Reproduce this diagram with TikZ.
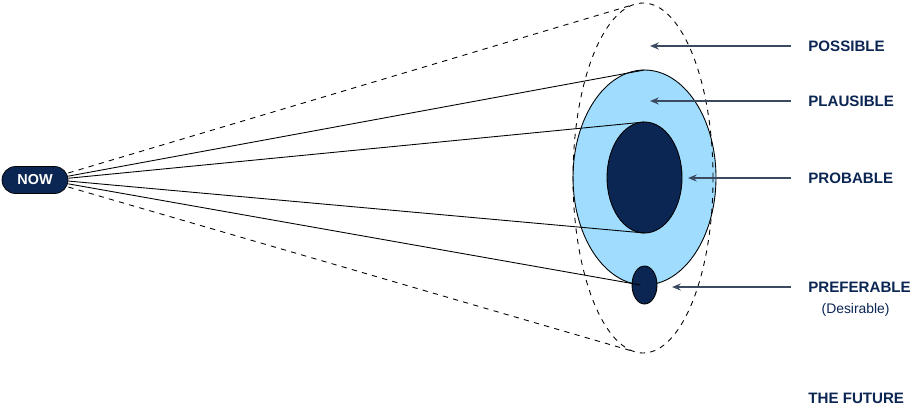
\documentclass[tikz,border=0pt]{standalone}
\usepackage{fontspec}
\setmainfont{Liberation Sans}
\usepackage{tikz}
\usetikzlibrary{positioning,arrows.meta,calc,shapes.geometric}
\definecolor{navy}{HTML}{0B2653}
\definecolor{skyblue}{HTML}{9FDCFD}
\definecolor{arrowgray}{HTML}{3B4A60}

\begin{document}
\begin{tikzpicture}[x=0.02cm,y=-0.02cm,
  blob/.style={ellipse,inner sep=0pt,outer sep=0pt,draw=black,line width=0.5pt},
  label/.style={anchor=west,inner sep=0pt,text=navy,font=\fontsize{8.6}{10}\selectfont\bfseries},
  pointer/.style={arrowgray,line width=0.9pt,-{Stealth[length=5pt,width=4pt]},shorten <=0.34cm},
  ray/.style={line width=0.5pt,black},
  every node/.style={font=\small}]
\useasboundingbox (0,0) rectangle (911,409);
% cone of futures
\node[blob,fill=skyblue,minimum width=143*0.02cm,minimum height=215*0.02cm] (plaus) at (644.5,177.5) {};
\node[blob,fill=navy,minimum width=75*0.02cm,minimum height=111*0.02cm] (prob) at (644.5,177.5) {};
\node[blob,dashed,minimum width=140*0.02cm,minimum height=350*0.02cm] (outer) at (643,178) {};
\node[draw=black,fill=navy,rounded corners=0.27cm,minimum width=66*0.02cm,minimum height=27*0.02cm,inner sep=0pt,
  text=white,font=\fontsize{8.2}{10}\selectfont\bfseries] (now) at (35,180) {NOW};
\draw[ray,dashed] ([yshift=4pt]now.east) -- (outer.93);
\draw[ray] ([yshift=2.2pt]now.east) -- (plaus.north);
\draw[ray] ([yshift=1pt]now.east) -- (prob.north);
\draw[ray] ([yshift=-0.6pt]now.east) -- (prob.south);
\draw[ray,dashed] ([yshift=-4pt]now.east) -- (outer.267);
\node[blob,fill=navy,minimum width=25*0.02cm,minimum height=38*0.02cm] (pref) at (644.5,285) {};
\draw[ray] ([yshift=-2.2pt]now.east) -- ([xshift=-4*0.02cm]pref.center);
% labels and pointers
\coordinate (tposs) at (650,46);
\coordinate (tplaus) at (650,101);
\coordinate (tprob) at (688,178);
\coordinate (tpref) at (672,287);
\node[label] (lposs) at (808,46) {POSSIBLE};
\node[label] (lplaus) at (808,101) {PLAUSIBLE};
\node[label] (lprob) at (808,178) {PROBABLE};
\node[label] (lpref) at (808,287) {PREFERABLE};
\node[anchor=north,inner sep=0pt,text=navy,font=\fontsize{7.9}{9}\selectfont] (desire) at ([xshift=-4*0.02cm,yshift=-6pt]lpref.south) {(Desirable)};
\node[label] (future) at (808,398) {THE FUTURE};
\draw[pointer] (lposs.west) -- (lposs.west -| tposs);
\draw[pointer] (lplaus.west) -- (lplaus.west -| tplaus);
\draw[pointer] (lprob.west) -- (lprob.west -| tprob);
\draw[pointer] (lpref.west) -- (lpref.west -| tpref);
\end{tikzpicture}
\end{document}
